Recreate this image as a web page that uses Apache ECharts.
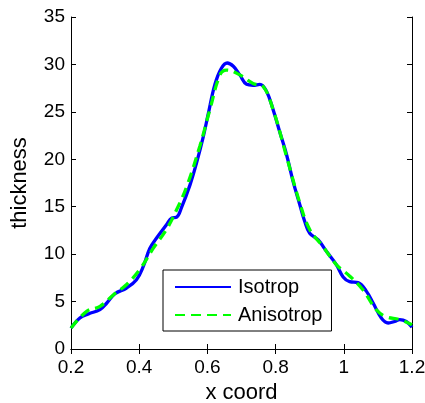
<!DOCTYPE html>
<html>
<head>
<meta charset="utf-8">
<script src="https://cdn.jsdelivr.net/npm/echarts@6/dist/echarts.min.js"></script>
<style>html,body{margin:0;padding:0;background:#fff}#c{width:425px;height:403px}</style>
</head>
<body>
<div id="c"></div>
<script>
var xTicks = [0.2, 0.4, 0.6, 0.8, 1.0, 1.2];
var yTicks = [0, 5, 10, 15, 20, 25, 30, 35];

var isoX = [0.2, 0.226, 0.251, 0.285, 0.305, 0.329, 0.363, 0.392, 0.412, 0.431, 0.451, 0.48, 0.495, 0.51, 0.524, 0.549, 0.568, 0.588, 0.602, 0.622, 0.641, 0.658, 0.676, 0.695, 0.715, 0.734, 0.754, 0.773, 0.793, 0.812, 0.832, 0.851, 0.871, 0.885, 0.9, 0.925, 0.949, 0.978, 0.998, 1.017, 1.042, 1.066, 1.086, 1.11, 1.13, 1.149, 1.164, 1.183, 1.2];
var isoY = [2.2, 3.27, 3.7, 4.15, 4.85, 5.83, 6.43, 7.3, 8.7, 10.6, 11.7, 13.1, 13.8, 13.9, 14.9, 17.3, 19.6, 22.4, 24.7, 27.9, 29.6, 30.15, 29.8, 28.9, 27.9, 27.8, 27.9, 27.2, 25.2, 22.9, 20.5, 17.7, 15.2, 13.5, 12.2, 11.5, 10.3, 8.9, 7.6, 7.1, 7.0, 6.1, 4.85, 3.27, 2.74, 2.9, 3.1, 2.9, 2.3];

var anisoX = [0.2, 0.246, 0.285, 0.324, 0.363, 0.402, 0.441, 0.48, 0.51, 0.539, 0.578, 0.607, 0.637, 0.656, 0.695, 0.734, 0.763, 0.793, 0.832, 0.871, 0.9, 0.939, 0.978, 1.017, 1.056, 1.095, 1.124, 1.164, 1.2];
var anisoY = [2.2, 3.97, 4.5, 5.7, 6.8, 8.4, 10.6, 12.6, 14.7, 17.1, 21.4, 25.2, 28.9, 29.4, 28.9, 28.0, 27.7, 25.2, 20.3, 15.4, 12.6, 10.8, 8.9, 7.7, 6.25, 4.15, 3.4, 3.1, 2.55];

var seriesNames = ['Isotrop', 'Anisotrop'];

function pairs(xs, ys) { return xs.map(function (x, i) { return [x, ys[i]]; }); }

var FONT = 'Liberation Sans, Arial, sans-serif';
var chart = echarts.init(document.getElementById('c'), null, {renderer: 'canvas'});
var fmt = function (v) { return String(+(+v).toFixed(1)); };
var baseAxisLine = {show: true, lineStyle: {color: '#000', width: 1}};
chart.setOption({
  animation: false,
  backgroundColor: '#fff',
  grid: {left: 71, right: 13, top: 17, bottom: 54, containLabel: false, outerBoundsMode: 'none'},
  xAxis: [{
    type: 'value', min: xTicks[0], max: xTicks[xTicks.length - 1], interval: 0.2,
    name: 'x coord', nameLocation: 'middle', nameGap: 32,
    nameTextStyle: {fontFamily: FONT, fontSize: 22, color: '#000'},
    axisLine: baseAxisLine, splitLine: {show: false},
    axisTick: {show: true, inside: true, length: 5, lineStyle: {color: '#000'}},
    axisLabel: {fontFamily: FONT, fontSize: 19, color: '#000', margin: 9, formatter: fmt}
  }, {
    type: 'value', position: 'top', min: xTicks[0], max: xTicks[xTicks.length - 1], interval: 0.2,
    axisLine: baseAxisLine, splitLine: {show: false},
    axisTick: {show: true, inside: true, length: 5, lineStyle: {color: '#000'}},
    axisLabel: {show: false}
  }],
  yAxis: [{
    type: 'value', min: yTicks[0], max: yTicks[yTicks.length - 1], interval: 5,
    name: 'thickness', nameLocation: 'middle', nameGap: 40, nameRotate: 90,
    nameTextStyle: {fontFamily: FONT, fontSize: 22, color: '#000'},
    axisLine: baseAxisLine, splitLine: {show: false},
    axisTick: {show: true, inside: true, length: 5, lineStyle: {color: '#000'}},
    axisLabel: {fontFamily: FONT, fontSize: 19, color: '#000', margin: 6}
  }, {
    type: 'value', position: 'right', min: yTicks[0], max: yTicks[yTicks.length - 1], interval: 5,
    axisLine: baseAxisLine, splitLine: {show: false},
    axisTick: {show: true, inside: true, length: 5, lineStyle: {color: '#000'}},
    axisLabel: {show: false}
  }],
  legend: {
    orient: 'vertical', left: 163, top: 270,
    data: seriesNames,
    backgroundColor: '#fff', borderColor: '#000', borderWidth: 1,
    padding: [7, 9, 6, 11],
    itemWidth: 56, itemHeight: 14, itemGap: 8,
    itemStyle: {opacity: 0},
    textStyle: {fontFamily: FONT, fontSize: 20, color: '#000', padding: [0, 0, 0, 2]}
  },
  series: [{
    name: seriesNames[0], type: 'line', smooth: 0.4, symbol: 'none',
    data: pairs(isoX, isoY),
    lineStyle: {color: '#0000ff', width: 3.3},
    itemStyle: {color: '#0000ff'}, z: 2
  }, {
    name: seriesNames[1], type: 'line', smooth: 0.4, symbol: 'none',
    data: pairs(anisoX, anisoY),
    lineStyle: {color: '#00ff00', width: 3.3, type: [10, 6]},
    itemStyle: {color: '#00ff00'}, z: 3
  }]
});
</script>
</body>
</html>
